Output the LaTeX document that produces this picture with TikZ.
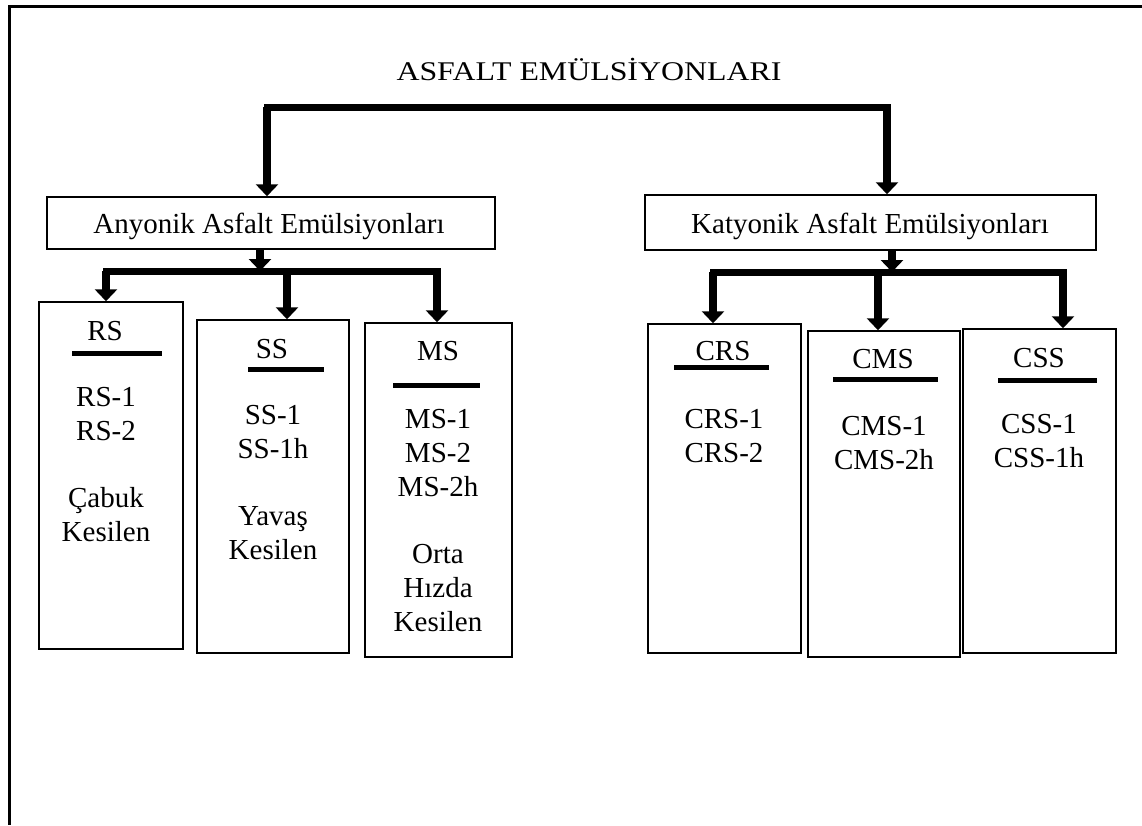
\documentclass[tikz,border=0pt]{standalone}
\usepackage{graphicx}
\usepackage{fontspec}
\setmainfont{Liberation Serif}
\usetikzlibrary{arrows.meta,fit}

\begin{document}
\begin{tikzpicture}[
    x=1pt, y=-1pt,
    box/.style={draw, line width=1.5pt, inner sep=0pt},
    txt/.style={font=\fontsize{29}{34}\selectfont, align=center, inner sep=0pt},
    bus/.style={line width=7pt, line cap=rect},
    line/.style={-{Triangle[width=22pt,length=12pt]}, line width=8pt},
    bar/.style={line width=5pt}
]
\useasboundingbox (0,0) rectangle (1142,825);
\draw[line width=3pt] (1142,6) -- (9,6) -- (9,825);

% main title and the two families
\node[txt, anchor=base] (title) at (589,80) {\scalebox{1.18}[1]{\fontsize{27}{32}\selectfont ASFALT EMÜLSİYONLARI}};
\node[box, fit={(47,197) (495,249)}] (anyon) {};
\node[box, fit={(645,195) (1096,250)}] (katyon) {};
\node[txt, anchor=base] (anyonlbl) at (269,233) {Anyonik Asfalt Emülsiyonları};
\node[txt, anchor=base] (katyonlbl) at (870,233) {Katyonik Asfalt Emülsiyonları};

\coordinate (tl) at (267,107);
\coordinate (tr) at (887,107);
\draw[bus] (tl) -- (tr);
\draw[line] (tl) -- (tl |- anyon.north);
\draw[line] (tr) -- (tr |- katyon.north);

% anionic types
\node[box, fit={(39,302) (183,649)}] (rs) {};
\node[box, fit={(197,320) (349,653)}] (ss) {};
\node[box, fit={(365,323) (512,657)}] (ms) {};

\coordinate (lb) at (260,271);
\coordinate (drs) at (106,271);
\coordinate (dss) at (287,271);
\coordinate (dms) at (437,271);
\draw[line] (anyon.south -| lb) -- (lb);
\draw[bus] (drs) -- (dms);
\draw[line] (drs) -- (drs |- rs.north);
\draw[line] (dss) -- (dss |- ss.north);
\draw[line] (dms) -- (dms |- ms.north);

\node[txt, anchor=base] (rsname) at (105,340) {RS};
\draw[bar] (72,353) -- (162,353);
\node[txt, anchor=north] (rslist) at (106,387.5) {RS-1\\RS-2\\[33pt]Çabuk\\Kesilen};

\node[txt, anchor=base] (ssname) at (272,358) {SS};
\draw[bar] (248,369.5) -- (324,369.5);
\node[txt, anchor=north] (sslist) at (273,405.5) {SS-1\\SS-1h\\[33pt]Yavaş\\Kesilen};

\node[txt, anchor=base] (msname) at (438,360) {MS};
\draw[bar] (393,385.5) -- (480,385.5);
\node[txt, anchor=north] (mslist) at (438,409.5) {MS-1\\MS-2\\MS-2h\\[33pt]Orta\\Hızda\\Kesilen};

% cationic types
\node[box, fit={(648,324) (801,653)}] (crs) {};
\node[box, fit={(808,331) (960,657)}] (cms) {};
\node[box, fit={(963,329) (1116,653)}] (css) {};

\coordinate (rb) at (892,272);
\coordinate (dcrs) at (713,272);
\coordinate (dcms) at (878,272);
\coordinate (dcss) at (1063,272);
\draw[line] (katyon.south -| rb) -- (rb);
\draw[bus] (dcrs) -- (dcss);
\draw[line] (dcrs) -- (dcrs |- crs.north);
\draw[line] (dcms) -- (dcms |- cms.north);
\draw[line] (dcss) -- (dcss |- css.north);

\node[txt, anchor=base] (crsname) at (723,360) {CRS};
\draw[bar] (674,367.5) -- (769,367.5);
\node[txt, anchor=north] (crslist) at (724,409.5) {CRS-1\\CRS-2};

\node[txt, anchor=base] (cmsname) at (883,368) {CMS};
\draw[bar] (833,379.5) -- (938,379.5);
\node[txt, anchor=north] (cmslist) at (884,416.5) {CMS-1\\CMS-2h};

\node[txt, anchor=base] (cssname) at (1039,367) {CSS};
\draw[bar] (998,380) -- (1097,380);
\node[txt, anchor=north] (csslist) at (1039,414.5) {CSS-1\\CSS-1h};
\end{tikzpicture}
\end{document}
